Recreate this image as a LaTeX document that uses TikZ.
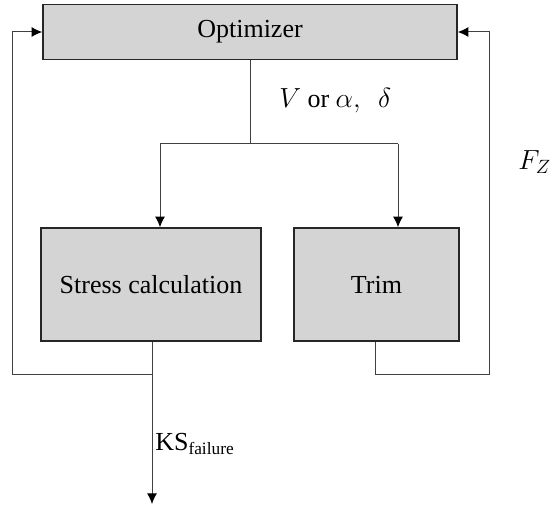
\documentclass[tikz,border=0pt]{standalone}
\usepackage{fontspec}
\setmainfont{Liberation Serif}
\usetikzlibrary{arrows.meta}
\begin{document}
\begin{tikzpicture}[x=0.75pt,y=-0.75pt,
  blk/.style={draw=black!85,line width=1.1pt,fill=black!17,inner sep=0pt,font=\fontsize{19.5}{23}\selectfont},
  wire/.style={draw=black!75,line width=0.75pt},
  arr/.style={wire,-{Latex[length=8pt,width=7.5pt,fill=black,color=black]}},
  lbl/.style={font=\fontsize{19.5}{23}\selectfont,inner sep=0pt}]
\useasboundingbox (0,0) rectangle (553,506);
\node[blk,minimum width=414*0.75pt,minimum height=55*0.75pt] (opt) at (250,32) {Optimizer};
\node[blk,minimum width=220*0.75pt,minimum height=113*0.75pt] (stress) at (151,284.5) {Stress calculation};
\node[blk,minimum width=165*0.75pt,minimum height=113*0.75pt] (trim) at (376.5,284.5) {Trim};
\coordinate (br) at (250,144);
\coordinate (bl) at (160,144);
\coordinate (brr) at (398,144);
\coordinate (sb) at (152,374);
\coordinate (lc) at (12,374);
\coordinate (lt) at (12,32);
\coordinate (tb) at (375,374);
\coordinate (rc) at (489,374);
\coordinate (rt) at (489,32);
\coordinate (out) at (152,504);
\draw[wire] (opt.south) -- (br);
\draw[wire] (bl) -- (brr);
\draw[arr] (bl) -- (bl |- stress.north);
\draw[arr] (brr) -- (brr |- trim.north);
\draw[arr] (stress.south -| sb) -- (sb) -- (lc) -- (lt) -- (opt.west);
\draw[arr] (trim.south -| tb) -- (tb) -- (rc) -- (rt) -- (opt.east);
\draw[arr] (sb) -- (out);
\node[lbl,anchor=west] (vl) at (279,101) {$V$ \textrm{or} $\alpha,\ \ \delta$};
\node[lbl,anchor=east] (fz) at (551,162) {$F_Z$};
\node[lbl,anchor=west] (ks) at (155,444) {KS\textsubscript{\fontsize{13}{15}\selectfont\rmfamily failure}};
\end{tikzpicture}
\end{document}
